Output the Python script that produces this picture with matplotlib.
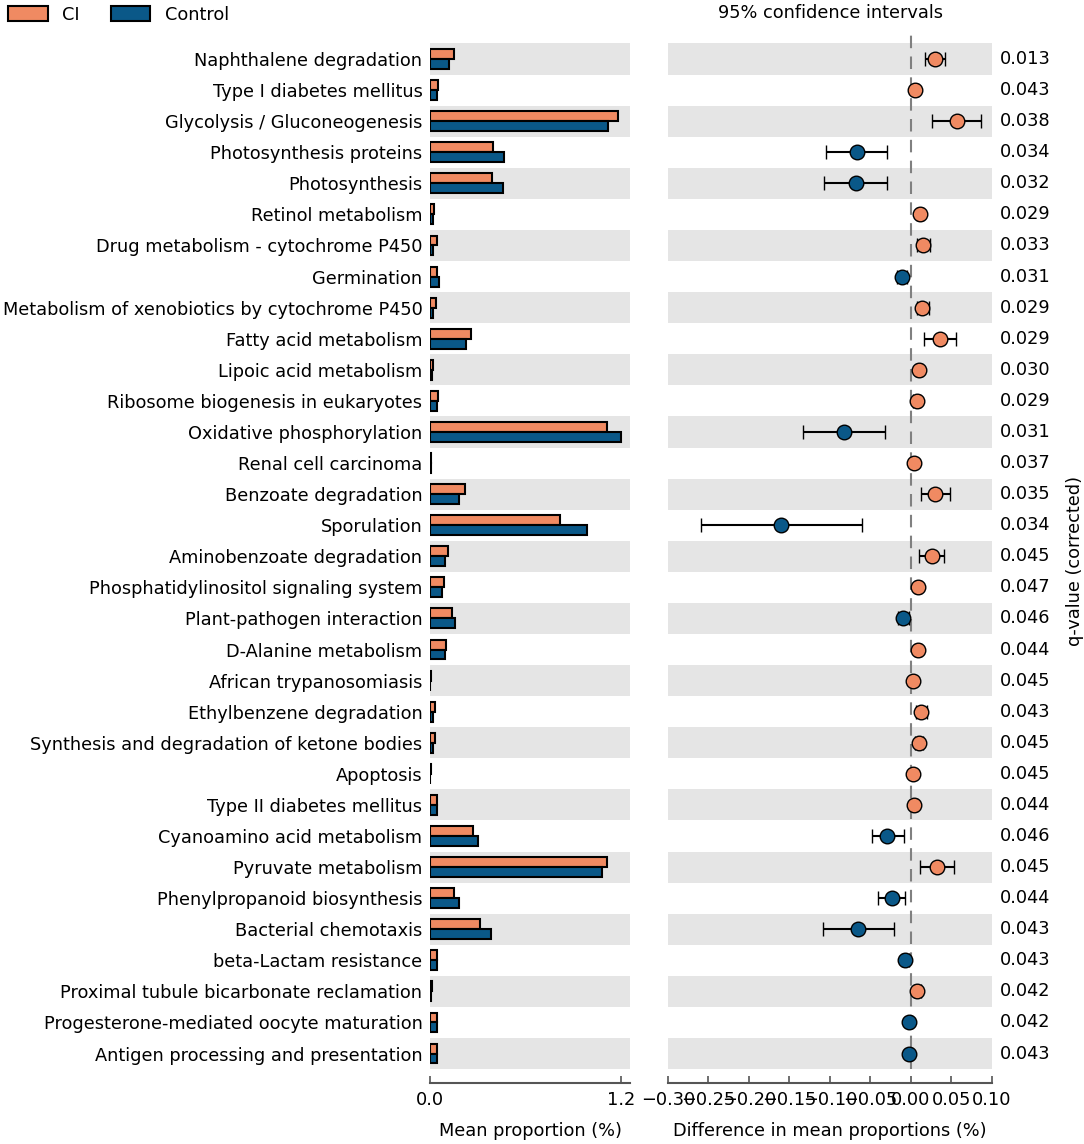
import numpy as np
import matplotlib
matplotlib.use("Agg")
from matplotlib import pyplot as plt
from matplotlib.patches import Patch
from matplotlib.transforms import blended_transform_factory

# data (top to bottom)
pathways = ["Naphthalene degradation", "Type I diabetes mellitus", "Glycolysis / Gluconeogenesis",
            "Photosynthesis proteins", "Photosynthesis", "Retinol metabolism",
            "Drug metabolism - cytochrome P450", "Germination",
            "Metabolism of xenobiotics by cytochrome P450", "Fatty acid metabolism",
            "Lipoic acid metabolism", "Ribosome biogenesis in eukaryotes", "Oxidative phosphorylation",
            "Renal cell carcinoma", "Benzoate degradation", "Sporulation", "Aminobenzoate degradation",
            "Phosphatidylinositol signaling system", "Plant-pathogen interaction", "D-Alanine metabolism",
            "African trypanosomiasis", "Ethylbenzene degradation",
            "Synthesis and degradation of ketone bodies", "Apoptosis", "Type II diabetes mellitus",
            "Cyanoamino acid metabolism", "Pyruvate metabolism", "Phenylpropanoid biosynthesis",
            "Bacterial chemotaxis", "beta-Lactam resistance", "Proximal tubule bicarbonate reclamation",
            "Progesterone-mediated oocyte maturation", "Antigen processing and presentation"]

mean_ci = [0.148, 0.049, 1.178, 0.396, 0.390, 0.025, 0.042, 0.046, 0.037, 0.257, 0.018,
           0.052, 1.114, 0.006, 0.217, 0.815, 0.116, 0.087, 0.141, 0.099, 0.004, 0.032,
           0.032, 0.003, 0.043, 0.270, 1.112, 0.152, 0.311, 0.042, 0.012, 0.042, 0.042]
mean_ctrl = [0.117, 0.044, 1.120, 0.465, 0.460, 0.018, 0.018, 0.059, 0.016, 0.223, 0.013,
             0.046, 1.200, 0.003, 0.185, 0.983, 0.095, 0.078, 0.156, 0.095, 0.002, 0.017,
             0.020, 0.001, 0.042, 0.300, 1.082, 0.179, 0.385, 0.042, 0.008, 0.042, 0.042]

diff = [0.030, 0.0055, 0.0565, -0.067, -0.068, 0.011, 0.015, -0.011, 0.014, 0.036, 0.010,
        0.007, -0.083, 0.004, 0.030, -0.160, 0.026, 0.009, -0.010, 0.009, 0.003, 0.013,
        0.010, 0.003, 0.004, -0.029, 0.032, -0.024, -0.065, -0.007, 0.008, -0.002, -0.002]
ci_low = [0.017, 0.002, 0.026, -0.1055, -0.1077, 0.007, 0.007, -0.017, 0.007, 0.016, 0.006,
          0.003, -0.133, 0.002, 0.013, -0.259, 0.010, 0.005, -0.016, 0.005, 0.001, 0.006,
          0.005, 0.001, 0.001, -0.048, 0.011, -0.041, -0.109, -0.011, 0.004, -0.005, -0.005]
ci_high = [0.042, 0.009, 0.087, -0.029, -0.0294, 0.015, 0.023, -0.005, 0.022, 0.056, 0.014,
           0.011, -0.032, 0.006, 0.048, -0.060, 0.041, 0.013, -0.003, 0.013, 0.005, 0.020,
           0.015, 0.005, 0.007, -0.008, 0.053, -0.007, -0.021, -0.003, 0.012, 0.001, 0.001]

qvals = ["0.013", "0.043", "0.038", "0.034", "0.032", "0.029", "0.033", "0.031", "0.029", "0.029",
         "0.030", "0.029", "0.031", "0.037", "0.035", "0.034", "0.045", "0.047", "0.046", "0.044",
         "0.045", "0.043", "0.045", "0.045", "0.044", "0.046", "0.045", "0.044", "0.043", "0.043",
         "0.042", "0.042", "0.043"]

c_ci = "#F08A62"
c_ctrl = "#0A5888"
band = "#E5E5E5"
fs = 12.8

fig = plt.figure(figsize=(10.84, 11.44), dpi=100)
ax1 = fig.add_axes([0.3967, 0.0655, 0.1845, 0.906])
ax2 = fig.add_axes([0.6162, 0.0655, 0.2989, 0.906])

y = np.arange(len(pathways))
h = 0.32

for ax in (ax1, ax2):
    for i in y[::2]:
        ax.axhspan(i - 0.5, i + 0.5, color=band, lw=0, zorder=0)
    ax.set_ylim(32.5, -0.85)
    for s in ("top", "right", "left"):
        ax.spines[s].set_visible(False)
    ax.spines["bottom"].set_position(("outward", 10))
    ax.spines["bottom"].set_color("#555555")
    ax.spines["bottom"].set_linewidth(1.5)
    ax.tick_params(axis="x", direction="in", length=5, width=1.2, color="#555555",
                   labelsize=fs, pad=6)
    ax.tick_params(axis="y", left=False)

# left: mean proportions
ax1.barh(y - h / 2, mean_ci, height=h, color=c_ci, edgecolor="black", lw=1.5, zorder=2)
ax1.barh(y + h / 2, mean_ctrl, height=h, color=c_ctrl, edgecolor="black", lw=1.5, zorder=2)
ax1.set_xlim(0, 1.256)
ax1.set_xticks([0.0, 1.2])
ax1.set_xticklabels(["0.0", "1.2"])
ax1.set_yticks(y)
ax1.set_yticklabels(pathways, fontsize=fs)
ax1.tick_params(axis="y", pad=2)
ax1.set_xlabel("Mean proportion (%)", fontsize=fs, labelpad=9)

# right: differences with 95% CI
ax2.axvline(0, color="grey", ls="--", dashes=(6, 4), lw=1.5, zorder=1)
for i in y:
    col = c_ci if diff[i] > 0 else c_ctrl
    ax2.errorbar(diff[i], i, xerr=[[diff[i] - ci_low[i]], [ci_high[i] - diff[i]]],
                 fmt="o", color=col, mec="black", mew=1, ms=10.5, ecolor="black",
                 elinewidth=1.5, capsize=5, capthick=1.5, zorder=3)
ax2.set_xlim(-0.3, 0.1)
xt = np.arange(-0.30, 0.101, 0.05)
ax2.set_xticks(xt)
ax2.set_xticklabels([("%.2f" % v).replace("-", "\u2212") if abs(v) > 1e-9 else "0.00" for v in xt])
ax2.set_yticks([])
ax2.set_xlabel("Difference in mean proportions (%)", fontsize=fs, labelpad=9)

tr = blended_transform_factory(ax2.transAxes, ax2.transData)
for i in y:
    ax2.text(1.025, i, qvals[i], transform=tr, ha="left", va="center", fontsize=fs)

fig.text(0.7657, 0.9886, "95% confidence intervals", ha="center", va="center", fontsize=fs)
fig.text(0.992, 0.51, "q-value (corrected)", rotation=90, ha="center", va="center", fontsize=fs)

handles = [Patch(facecolor=c_ci, edgecolor="black", lw=1.5, label="CI"),
           Patch(facecolor=c_ctrl, edgecolor="black", lw=1.5, label="Control")]
fig.legend(handles=handles, loc="upper left", bbox_to_anchor=(-0.007, 1.009), ncol=2, frameon=False,
           fontsize=fs, handlelength=2.2, handleheight=0.85, handletextpad=0.8, columnspacing=1.8)

plt.savefig("out.png", dpi=100)
